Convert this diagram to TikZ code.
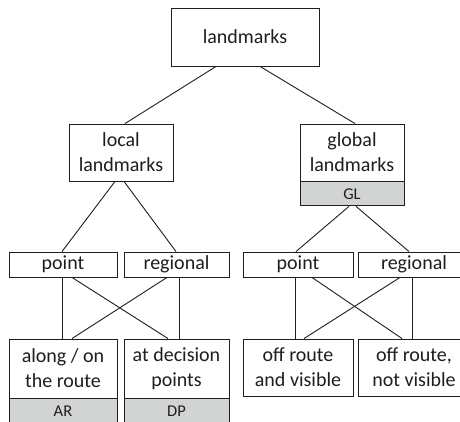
\documentclass[tikz,border=0pt]{standalone}
\usepackage{fontspec}
\setmainfont{Carlito}
\definecolor{ink}{HTML}{1E1E1E}
\definecolor{band}{HTML}{D2D3D3}
\begin{document}
\begin{tikzpicture}[x=1pt,y=-1pt,
  box/.style={draw=ink,line width=0.9pt,fill=white,inner sep=0pt,align=center,
    text=ink,font=\fontsize{20}{25}\selectfont},
  tag/.style={draw=ink,line width=0.9pt,fill=band,inner sep=0pt,align=center,
    text=ink,font=\fontsize{16.5}{18}\selectfont,minimum height=24pt,anchor=north},
  link/.style={draw=ink,line width=0.9pt}]
\useasboundingbox (0,0) rectangle (460,422);
\clip (0,0) rectangle (460,422);

% level 0
\node[box,minimum width=148pt,minimum height=58pt] (top) at (245,37) {landmarks};
% level 1
\node[box,minimum width=104pt,minimum height=57pt] (local) at (121,152.5) {local\\landmarks};
\node[box,minimum width=104pt,minimum height=57pt] (global) at (352,152.5) {global\\landmarks};
\node[tag,minimum width=104pt] (gl) at (global.south) {GL};
% level 2
\node[box,minimum width=108pt,minimum height=25pt] (pl) at (63,264.5) {point};
\node[box,minimum width=105pt,minimum height=25pt] (rl) at (176.5,264.5) {regional};
\node[box,minimum width=110pt,minimum height=25pt] (pr) at (298,264.5) {point};
\node[box,minimum width=112pt,minimum height=25pt] (rr) at (414,264.5) {regional};
% level 3
\node[box,minimum width=108pt,minimum height=59pt] (ar) at (63,368.5) {along / on\\the route};
\node[tag,minimum width=108pt] (arl) at (ar.south) {AR};
\node[box,minimum width=105pt,minimum height=59pt] (dp) at (176.5,368.5) {at decision\\points};
\node[tag,minimum width=105pt] (dpl) at (dp.south) {DP};
\node[box,minimum width=110pt,minimum height=57pt] (ov) at (298,367.5) {off route\\and visible};
\node[box,minimum width=112pt,minimum height=57pt] (onv) at (414,367.5) {off route,\\not visible};

% tree edges
\draw[link] ([xshift=-29pt]top.south) -- ([xshift=4pt]local.north);
\draw[link] ([xshift=15pt]top.south) -- ([xshift=3pt]global.north);
\draw[link] ([xshift=-6pt]local.south) -- ([xshift=-1pt]pl.north);
\draw[link] ([xshift=3pt]local.south) -- ([xshift=-0.5pt]rl.north);
\draw[link] ([xshift=-3pt]gl.south) -- ([xshift=-2pt]pr.north);
\draw[link] ([xshift=4pt]gl.south) -- ([xshift=-5pt]rr.north);

% crossings, local side
\draw[link] ([xshift=-1pt]pl.south) -- ([xshift=-1pt]ar.north);
\draw[link] ([xshift=9pt]pl.south) -- ([xshift=-8.5pt]dp.north);
\draw[link] ([xshift=-9.5pt]rl.south) -- ([xshift=9pt]ar.north);
\draw[link] ([xshift=2.5pt]rl.south) -- ([xshift=2.5pt]dp.north);

% crossings, global side
\draw[link] ([xshift=-3pt]pr.south) -- ([xshift=-3pt]ov.north);
\draw[link] ([xshift=14pt]pr.south) -- ([xshift=-12pt]onv.north);
\draw[link] ([xshift=-14pt]rr.south) -- ([xshift=6pt]ov.north);
\draw[link] ([xshift=-2pt]rr.south) -- ([xshift=-2pt]onv.north);
\end{tikzpicture}
\end{document}
